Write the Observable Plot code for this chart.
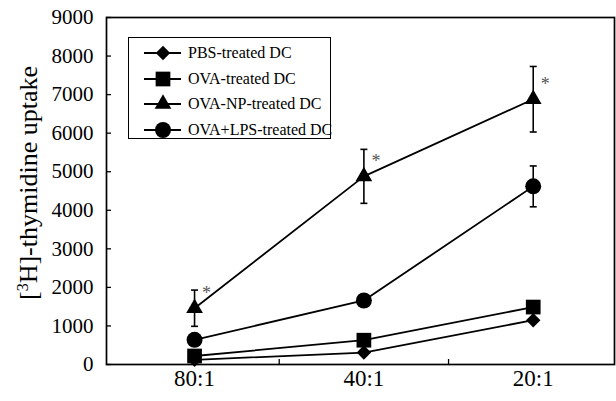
<!DOCTYPE html>
<html><head><meta charset="utf-8">
<script src="https://cdn.jsdelivr.net/npm/d3@7"></script>
<script src="https://cdn.jsdelivr.net/npm/@observablehq/plot@0.6"></script>
<style>
body{margin:0;background:#fff;}
#wrap{position:relative;width:616px;height:401px;font-family:"Liberation Serif","Times New Roman",serif;}
#legend{position:absolute;left:128px;top:37px;width:203px;height:102px;border:1.5px solid #000;box-sizing:border-box;background:#fff;}
.row{position:absolute;left:0;height:24px;display:flex;align-items:center;font-size:16px;color:#000;white-space:nowrap;}
.row svg{display:block;}
</style></head><body><div id="wrap"></div>
<script>
const ratios = ["80:1", "40:1", "20:1"];
const seriesNames = ["PBS-treated DC", "OVA-treated DC", "OVA-NP-treated DC", "OVA+LPS-treated DC"];
const pbsValues = [120, 310, 1150];
const ovaValues = [220, 630, 1490];
const ovaNpValues = [1460, 4880, 6880];
const ovaLpsValues = [640, 1660, 4620];
const ovaNpErrors = [470, 700, 850];
const ovaLpsErrors = [0, 0, 530];
const ovaNpSignificant = [true, true, true];
const yTicks = [0, 1000, 2000, 3000, 4000, 5000, 6000, 7000, 8000, 9000];

const symbolNames = ["diamond2", "square", "triangle", "circle"];
const symbolR = [6.5, 8.3, 6.2, 8];

const allValues = [pbsValues, ovaValues, ovaNpValues, ovaLpsValues];
const allErrors = [null, null, ovaNpErrors, ovaLpsErrors];
const rows = [];
seriesNames.forEach((s, k) => ratios.forEach((r, i) => {
  const e = allErrors[k] ? allErrors[k][i] : 0;
  rows.push({series: s, x: i + 1, value: allValues[k][i], lo: allValues[k][i] - e, hi: allValues[k][i] + e, err: e});
}));
const errRows = rows.filter(d => d.err > 0);
const sigRows = rows.filter(d => d.series === "OVA-NP-treated DC" && ovaNpSignificant[d.x - 1]);
const xIdx = ratios.map((r, i) => i + 1);
const xSeparators = ratios.slice(1).map((r, i) => i + 1.5);

const capSymbol = {draw(context, size) { context.moveTo(-3.5, 0); context.lineTo(3.5, 0); }};

const font = '"Liberation Serif","Times New Roman",serif';
const chart = Plot.plot({
  width: 616, height: 401,
  marginLeft: 106, marginRight: 2, marginTop: 17, marginBottom: 37,
  style: {fontFamily: font, fontSize: "20px", color: "#000", background: "transparent", overflow: "visible"},
  x: {domain: [0.48, 3.48], axis: null},
  y: {domain: [0, 9000], axis: null},
  marks: [
    Plot.frame({stroke: "#000", strokeWidth: 1.7}),
    Plot.axisY(yTicks, {tickSize: -5, tickFormat: () => "", label: null, strokeWidth: 1.3}),
    Plot.text(yTicks, {y: d => d, frameAnchor: "left", textAnchor: "end", dx: -13, text: d => String(d), fontSize: 21, fill: "#000"}),
    Plot.axisX(xSeparators, {tickSize: -5, tickFormat: () => "", label: null, strokeWidth: 1.3}),
    Plot.text(xIdx, {x: d => d, frameAnchor: "bottom", dy: 21, text: d => ratios[d - 1], fontSize: 23, fill: "#000"}),
    Plot.link(errRows, {x1: "x", x2: "x", y1: "lo", y2: "hi", stroke: "#000", strokeWidth: 1.6}),
    Plot.dot(errRows, {x: "x", y: "lo", symbol: () => capSymbol, stroke: "#000", strokeWidth: 1.6, fill: "none"}),
    Plot.dot(errRows, {x: "x", y: "hi", symbol: () => capSymbol, stroke: "#000", strokeWidth: 1.6, fill: "none"}),
    Plot.line(rows, {x: "x", y: "value", z: "series", stroke: "#000", strokeWidth: 1.8}),
    ...seriesNames.map((s, k) => Plot.dot(rows.filter(d => d.series === s), {x: "x", y: "value", symbol: () => symbolNames[k], r: symbolR[k], fill: "#000", stroke: "none"})),
    Plot.text(sigRows, {x: "x", y: "value", text: () => "*", dx: 12, dy: -15, fill: "#555", fontSize: 18})
  ]
});

const wrap = document.getElementById("wrap");
wrap.appendChild(chart);

const svg = d3.select(chart);

// y-axis title with superscript
const t = svg.append("text")
  .attr("transform", "translate(37,183) rotate(-90)")
  .attr("text-anchor", "middle")
  .attr("font-family", font)
  .attr("font-size", 26)
  .attr("fill", "#000");
t.append("tspan").text("[");
t.append("tspan").attr("font-size", 16).attr("dy", -9).text("3");
t.append("tspan").attr("dy", 9).text("H]-thymidine uptake");

// legend
const legend = document.createElement("div");
legend.id = "legend";
seriesNames.forEach((s, k) => {
  const row = document.createElement("div");
  row.className = "row";
  row.style.top = (3 + k * 25.5) + "px";
  const ns = "http://www.w3.org/2000/svg";
  const sv = document.createElementNS(ns, "svg");
  sv.setAttribute("width", 56); sv.setAttribute("height", 24);
  const ln = document.createElementNS(ns, "line");
  ln.setAttribute("x1", 15); ln.setAttribute("x2", 52); ln.setAttribute("y1", 12); ln.setAttribute("y2", 12);
  ln.setAttribute("stroke", "#000"); ln.setAttribute("stroke-width", 1.8);
  sv.appendChild(ln);
  const p = document.createElementNS(ns, "path");
  const symMap = {diamond2: d3.symbolDiamond2, square: d3.symbolSquare, triangle: d3.symbolTriangle, circle: d3.symbolCircle};
  p.setAttribute("d", d3.symbol(symMap[symbolNames[k]], Math.PI * symbolR[k] * symbolR[k])());
  p.setAttribute("transform", "translate(34,12)");
  p.setAttribute("fill", "#000");
  sv.appendChild(p);
  row.appendChild(sv);
  const tx = document.createElement("span");
  tx.textContent = s;
  tx.style.marginLeft = "3px";
  row.appendChild(tx);
  legend.appendChild(row);
});
wrap.appendChild(legend);
</script></body></html>
